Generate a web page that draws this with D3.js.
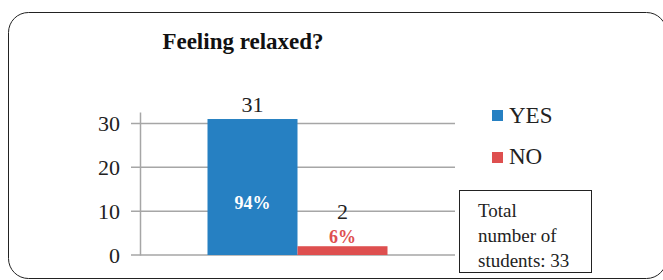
<!DOCTYPE html>
<html>
<head>
<meta charset="utf-8">
<script src="https://cdn.jsdelivr.net/npm/d3@7"></script>
<style>
  body { margin: 0; background: #fff; }
  svg { display: block; font-family: "Liberation Serif", "Times New Roman", serif; }
</style>
</head>
<body>
<div id="chart"></div>
<script>
// Data
const categories = ["YES", "NO"];
const counts = [31, 2];
const percents = ["94%", "6%"];
const yTicks = [0, 10, 20, 30];
const colors = ["#2680c2", "#de4f4f"];

const width = 663, height = 280;
const svg = d3.select("#chart")
  .append("svg")
  .attr("width", width)
  .attr("height", height);

// outer rounded frame
svg.append("rect")
  .attr("x", 8.5).attr("y", 12.5)
  .attr("width", 658).attr("height", 266)
  .attr("rx", 20)
  .attr("fill", "none")
  .attr("stroke", "#222")
  .attr("stroke-width", 1);

const x = d3.scaleBand()
  .domain(categories)
  .range([140, 455])
  .paddingInner(0)
  .paddingOuter(0.75);

const y = d3.scaleLinear()
  .domain([0, 32.6])
  .range([255, 112]);

// gridlines
svg.append("g")
  .selectAll("line")
  .data(yTicks)
  .join("line")
  .attr("x1", 131).attr("x2", 455)
  .attr("y1", d => y(d)).attr("y2", d => y(d))
  .attr("stroke", "#a6a6a6")
  .attr("stroke-width", 1.5);

// y axis
const yAxis = svg.append("g")
  .attr("transform", "translate(140,0)")
  .call(d3.axisLeft(y).tickValues(yTicks).tickSize(0).tickPadding(20));
yAxis.select(".domain").attr("stroke", "#a6a6a6").attr("stroke-width", 1.5);
yAxis.selectAll("text")
  .attr("font-family", "Liberation Serif, serif")
  .attr("font-size", "22px")
  .attr("fill", "#222");

// bars
svg.selectAll(".bar")
  .data(counts)
  .join("rect")
  .attr("class", "bar")
  .attr("x", (d, i) => x(categories[i]))
  .attr("y", d => y(d))
  .attr("width", x.bandwidth())
  .attr("height", d => y(0) - y(d))
  .attr("fill", (d, i) => colors[i]);

// count labels
svg.selectAll(".count")
  .data(counts)
  .join("text")
  .attr("class", "count")
  .attr("x", (d, i) => x(categories[i]) + x.bandwidth() / 2)
  .attr("y", (d, i) => i === 0 ? y(d) - 7 : 219)
  .attr("text-anchor", "middle")
  .attr("font-size", "22px")
  .attr("fill", "#222")
  .text(d => d);

// percent labels
svg.selectAll(".pct")
  .data(percents)
  .join("text")
  .attr("class", "pct")
  .attr("x", (d, i) => x(categories[i]) + x.bandwidth() / 2)
  .attr("y", (d, i) => i === 0 ? 209 : 243)
  .attr("text-anchor", "middle")
  .attr("font-size", "18px")
  .attr("font-weight", "bold")
  .attr("fill", (d, i) => i === 0 ? "#fff" : colors[1])
  .text(d => d);

// title
svg.append("text")
  .attr("x", 243)
  .attr("y", 49)
  .attr("text-anchor", "middle")
  .attr("font-size", "23px")
  .attr("font-weight", "bold")
  .attr("fill", "#111")
  .text("Feeling relaxed?");

// legend
const legend = svg.append("g")
  .attr("transform", "translate(492,0)");
legend.selectAll("rect")
  .data(categories)
  .join("rect")
  .attr("x", 0)
  .attr("y", (d, i) => 110 + i * 42)
  .attr("width", 11).attr("height", 11)
  .attr("fill", (d, i) => colors[i]);
legend.selectAll("text")
  .data(categories)
  .join("text")
  .attr("x", 17)
  .attr("y", (d, i) => 123 + i * 41)
  .attr("font-size", "23px")
  .attr("fill", "#222")
  .text(d => d);

// total box
svg.append("rect")
  .attr("x", 459.5).attr("y", 190.5)
  .attr("width", 132).attr("height", 82)
  .attr("fill", "#fff")
  .attr("stroke", "#222")
  .attr("stroke-width", 1);
const note = ["Total", "number of", "students: 33"];
svg.selectAll(".note")
  .data(note)
  .join("text")
  .attr("class", "note")
  .attr("x", 478)
  .attr("y", (d, i) => 217 + i * 25)
  .attr("font-size", "19px")
  .attr("fill", "#222")
  .text(d => d);
</script>
</body>
</html>
